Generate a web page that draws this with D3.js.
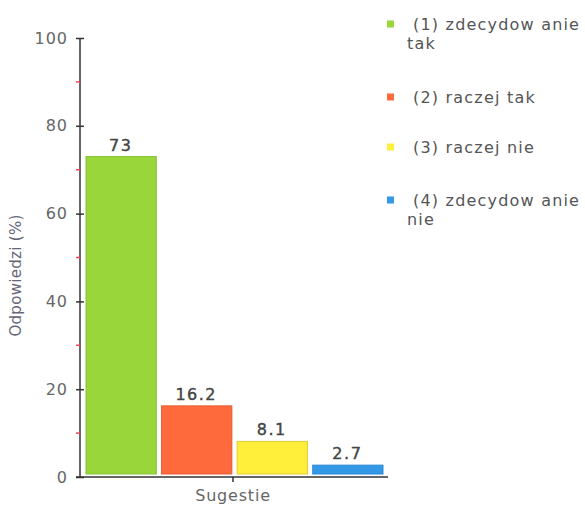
<!DOCTYPE html>
<html><head><meta charset="utf-8">
<script src="https://cdn.jsdelivr.net/npm/d3@7"></script>
<style>body{margin:0;background:#fff}svg{display:block}text{font-family:"DejaVu Sans",Verdana,sans-serif}</style>
</head><body><svg id="c" width="585" height="505"></svg>
<script>
const categories = ["(1) zdecydow anie tak", "(2) raczej tak", "(3) raczej nie", "(4) zdecydow anie nie"];
const legendLines = [["(1) zdecydow anie", "tak"], ["(2) raczej tak"], ["(3) raczej nie"], ["(4) zdecydow anie", "nie"]];
const values = [73, 16.2, 8.1, 2.7];
const valueLabels = ["73", "16.2", "8.1", "2.7"];
const colors = ["#99d63a", "#ff6a3d", "#ffee3a", "#3399e6"];
const strokes = ["#86c23a", "#e85a30", "#e0cc30", "#2a88d4"];
const yTicks = [0, 20, 40, 60, 80, 100];
const yMinorTicks = [10, 30, 50, 70, 90];
const xLabel = "Sugestie";
const yLabel = "Odpowiedzi (%)";

const svg = d3.select("#c");
const x0 = 80, x1 = 388, yBottom = 477, yTop = 38;
const y = d3.scaleLinear().domain([0, 100]).range([yBottom, yTop]);
const x = d3.scaleBand().domain(categories).range([x0 + 4, x1 - 4]).paddingInner(0.07).paddingOuter(0.02);

// bars
svg.selectAll("rect.bar").data(values).enter().append("rect")
  .attr("x", (d, i) => x(categories[i]) + 0.5)
  .attr("y", d => y(d))
  .attr("width", x.bandwidth())
  .attr("height", d => yBottom - 3 - y(d))
  .attr("fill", (d, i) => colors[i])
  .attr("stroke", (d, i) => strokes[i]).attr("stroke-width", 1);

svg.selectAll("text.val").data(values).enter().append("text")
  .attr("x", (d, i) => x(categories[i]) + x.bandwidth() / 2)
  .attr("y", d => y(d) - 6)
  .attr("text-anchor", "middle").attr("font-size", 16).attr("fill", "#444")
  .attr("stroke", "#444").attr("stroke-width", 0.4)
  .attr("letter-spacing", 1.5)
  .text((d, i) => valueLabels[i]);

// y axis
const ya = svg.append("g").attr("transform", `translate(${x0},0)`)
  .call(d3.axisLeft(y).tickValues(yTicks).tickSize(4).tickPadding(8));
ya.select(".domain").remove();
ya.selectAll(".tick line").attr("x2", 4).attr("x1", -4).attr("stroke", "#333").attr("stroke-width", 1.5);
ya.selectAll(".tick text").attr("font-size", 16).attr("fill", "#666").attr("letter-spacing", 1)
  .attr("font-family", '"DejaVu Sans",Verdana,sans-serif');
svg.append("line").attr("x1", x0).attr("x2", x0).attr("y1", y(100)).attr("y2", yBottom).attr("stroke", "#333").attr("stroke-width", 1.5);
svg.selectAll("line.minor").data(yMinorTicks).enter().append("line")
  .attr("x1", x0 - 4).attr("x2", x0).attr("y1", d => y(d)).attr("y2", d => y(d))
  .attr("stroke", "#f0405a").attr("stroke-width", 1.5);

// x axis
svg.append("line").attr("x1", x0 - 4).attr("x2", x1).attr("y1", yBottom).attr("y2", yBottom).attr("stroke", "#333").attr("stroke-width", 1.5);
svg.append("line").attr("x1", (x0 + x1) / 2 - 1).attr("x2", (x0 + x1) / 2 - 1).attr("y1", yBottom).attr("y2", yBottom + 5).attr("stroke", "#333").attr("stroke-width", 1.5);
svg.append("text").attr("x", (x0 + x1) / 2 - 1).attr("y", 501).attr("text-anchor", "middle")
  .attr("font-size", 16).attr("letter-spacing", 0.8).attr("fill", "#666").text(xLabel);
svg.append("text").attr("transform", `translate(21,${(yTop + yBottom) / 2 + 18}) rotate(-90)`)
  .attr("text-anchor", "middle").attr("font-size", 15).attr("letter-spacing", 0.3).attr("fill", "#667").text(yLabel);

// legend
const legY = [24, 97, 147, 200];
legendLines.forEach((lines, i) => {
  svg.append("rect").attr("x", 387).attr("y", legY[i] - 3.5).attr("width", 7).attr("height", 7).attr("fill", colors[i]);
  lines.forEach((t, j) => {
    svg.append("text").attr("x", j === 0 ? 413 : 407).attr("y", legY[i] + j * 19 + 6)
      .attr("font-size", 16).attr("fill", "#555").attr("letter-spacing", 1.2).text(t);
  });
});
</script></body></html>
